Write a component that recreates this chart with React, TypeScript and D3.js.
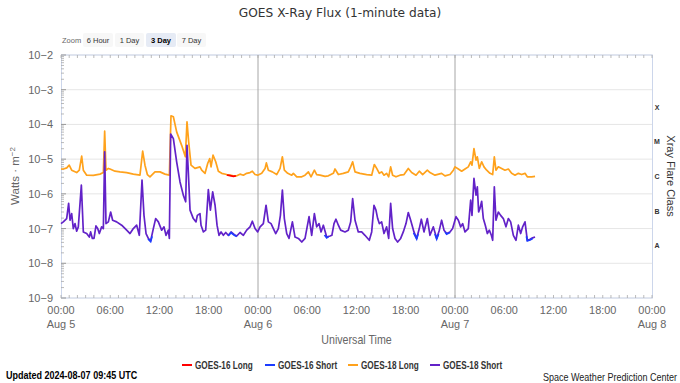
import React from 'react';
import * as d3 from 'd3';

// ---------- DATA (hours since 2024-08-05 00:00 UTC, flux W/m^2) ----------
const startDay = Date.UTC(2024, 7, 5);
const endDay = Date.UTC(2024, 7, 8);
const dayLines = [Date.UTC(2024, 7, 6), Date.UTC(2024, 7, 7)];

const goes18Long: [number, number][] = [
  [0, 5.2e-6], [0.3, 5.2e-6], [0.7, 5.6e-6], [1.0, 6.7e-6], [1.3, 4.8e-6], [1.91, 4.1e-6], [2.23, 4.8e-6],
  [2.52, 1.22e-5], [2.72, 4.8e-6], [3.13, 3.45e-6], [3.94, 3.4e-6], [4.75, 3.7e-6], [5.16, 4.1e-6],
  [5.32, 6.4e-5], [5.48, 4.8e-6], [5.77, 5.4e-6], [5.97, 5.2e-6], [6.58, 4.5e-6], [7.19, 4.3e-6],
  [8.0, 4.1e-6], [8.81, 3.7e-6], [9.62, 3.45e-6], [9.95, 1.7e-5], [10.23, 6.7e-6], [10.52, 3.6e-6],
  [10.84, 3.1e-6], [11.45, 4.3e-6], [12.06, 4.3e-6], [12.67, 3.7e-6], [13.2, 3.45e-6],
  [13.4, 1.78e-4], [13.69, 1.66e-4], [14.09, 6.1e-5], [14.7, 2.5e-5], [15.15, 1.17e-5],
  [15.35, 1.19e-4], [15.55, 3.2e-5], [15.84, 6.7e-6], [16.32, 5.4e-6], [16.93, 6.0e-6],
  [17.14, 4.8e-6], [17.55, 3.9e-6], [17.87, 7.5e-6], [18.12, 1.04e-5], [18.28, 6.0e-6],
  [18.52, 1.3e-5], [18.85, 8.4e-6], [19.17, 4.5e-6], [19.58, 3.9e-6], [20.19, 3.6e-6],
  [20.59, 3.45e-6], [21.0, 3.3e-6], [21.41, 3.3e-6], [21.81, 3.7e-6], [22.22, 3.45e-6],
  [22.62, 3.9e-6], [23.03, 4.1e-6], [23.31, 4.5e-6], [23.64, 3.6e-6], [23.96, 3.45e-6],
  [24.45, 3.9e-6], [24.86, 5.4e-6], [25.02, 7.8e-6], [25.26, 4.8e-6], [25.75, 4.3e-6],
  [26.28, 3.6e-6], [26.69, 5.4e-6], [26.97, 1.17e-5], [27.21, 4.8e-6], [27.62, 3.9e-6],
  [28.11, 3.45e-6], [28.31, 3.9e-6], [28.72, 3.1e-6], [29.33, 3.1e-6], [29.73, 3.45e-6],
  [30.14, 4.3e-6], [30.46, 3.1e-6], [30.87, 4.8e-6], [31.15, 3.6e-6], [31.56, 3.45e-6],
  [32.17, 3.2e-6], [32.57, 3.3e-6], [33.18, 3.9e-6], [33.38, 5.2e-6], [33.79, 3.6e-6],
  [34.39, 3.9e-6], [35.0, 4.3e-6], [35.29, 6.0e-6], [35.53, 8.4e-6], [35.82, 4.3e-6],
  [36.42, 3.9e-6], [37.24, 3.6e-6], [37.85, 3.45e-6], [38.17, 7.0e-6], [38.46, 5.4e-6],
  [38.78, 3.9e-6], [39.06, 4.3e-6], [39.35, 3.45e-6], [39.67, 3.9e-6], [39.92, 3.1e-6],
  [40.16, 6.0e-6], [40.4, 3.45e-6], [40.81, 3.1e-6], [41.3, 3.45e-6], [41.79, 3.6e-6],
  [42.31, 5.4e-6], [42.72, 4.1e-6], [43.25, 3.45e-6], [43.65, 4.5e-6], [44.06, 3.6e-6],
  [44.63, 4.8e-6], [44.95, 4.1e-6], [45.56, 3.45e-6], [46.37, 3.9e-6], [46.78, 3.3e-6],
  [47.39, 3.6e-6], [47.8, 4.8e-6], [48.0, 6.0e-6], [48.41, 5.2e-6], [48.81, 4.5e-6],
  [49.22, 5.2e-6], [49.62, 6.0e-6], [49.91, 8.4e-6], [50.07, 6.7e-6], [50.31, 2.0e-5],
  [50.56, 9.4e-6], [50.72, 1.17e-5], [50.96, 5.4e-6], [51.25, 8.4e-6], [51.53, 6.0e-6],
  [51.86, 4.8e-6], [52.26, 3.9e-6], [52.59, 3.6e-6], [52.79, 1.17e-5], [52.99, 4.8e-6],
  [53.28, 6.0e-6], [53.68, 5.4e-6], [54.09, 4.8e-6], [54.5, 5.2e-6], [54.9, 3.9e-6],
  [55.31, 3.45e-6], [55.72, 3.9e-6], [56.12, 3.6e-6], [56.53, 3.9e-6], [56.81, 3.1e-6],
  [57.34, 3.1e-6], [57.75, 3.2e-6],
];

const goes18Short: [number, number][] = [
  [0, 1.39e-7], [0.28, 1.56e-7], [0.69, 1.94e-7], [0.93, 5.3e-7], [1.1, 1.74e-7], [1.3, 2.7e-7],
  [1.5, 1.0e-7], [1.71, 1.39e-7], [1.91, 8.4e-8], [2.11, 1.12e-7], [2.48, 1.78e-6], [2.72, 8.0e-8],
  [3.13, 7.2e-8], [3.45, 5.7e-8], [3.61, 8.0e-8], [3.82, 5.2e-8], [4.02, 5.2e-8], [4.26, 1.19e-7],
  [4.47, 1.0e-7], [4.67, 7.2e-8], [4.95, 1.12e-7], [5.16, 1.0e-7], [5.32, 1.63e-5], [5.48, 1.39e-7],
  [5.77, 1.56e-7], [6.05, 3.0e-7], [6.29, 1.74e-7], [6.78, 1.56e-7], [7.39, 1.25e-7], [8.0, 9.0e-8],
  [8.41, 7.2e-8], [8.81, 1.0e-7], [9.22, 1.25e-7], [9.54, 6.4e-8], [9.87, 2.5e-6], [10.11, 2.4e-7],
  [10.36, 7.2e-8], [10.64, 5.2e-8], [10.92, 4.4e-8], [11.25, 1.0e-7], [11.53, 1.94e-7],
  [11.86, 1.56e-7], [12.26, 9.0e-8], [12.55, 1.12e-7], [12.79, 6.4e-8], [13.08, 9.0e-8],
  [13.2, 5.2e-8], [13.36, 5.3e-5], [13.69, 3.9e-5], [14.09, 8.4e-6], [14.5, 2.2e-6], [14.9, 9.2e-7],
  [15.19, 5.9e-7], [15.35, 2.5e-5], [15.51, 4.3e-6], [15.72, 3.4e-7], [16.12, 1.94e-7],
  [16.45, 1.56e-7], [16.61, 2.4e-7], [16.93, 2.7e-7], [17.06, 1.25e-7], [17.35, 8.0e-8],
  [17.63, 9.0e-8], [17.95, 1.33e-6], [18.2, 3.4e-7], [18.48, 1.14e-6], [18.77, 4.7e-7],
  [19.01, 1.25e-7], [19.25, 6.4e-8], [19.5, 8.0e-8], [19.78, 6.4e-8], [20.07, 7.7e-8],
  [20.39, 6.4e-8], [20.72, 8.0e-8], [21.12, 6.7e-8], [21.41, 6.1e-8], [21.81, 7.7e-8],
  [22.22, 6.4e-8], [22.62, 9.0e-8], [23.03, 1.12e-7], [23.31, 1.63e-7], [23.64, 1.0e-7],
  [23.96, 8.0e-8], [24.25, 1.12e-7], [24.65, 1.39e-7], [24.98, 4.7e-7], [25.26, 1.56e-7],
  [25.59, 1.39e-7], [25.87, 1.0e-7], [26.16, 7.2e-8], [26.48, 1.0e-7], [26.73, 2.4e-7],
  [26.97, 1.28e-6], [27.21, 1.94e-7], [27.5, 7.2e-8], [27.78, 5.2e-8], [28.19, 1.56e-7],
  [28.51, 5.7e-8], [28.92, 5.2e-8], [29.33, 4.1e-8], [29.73, 5.2e-8], [30.22, 2.2e-7],
  [30.54, 6.4e-8], [30.87, 2.7e-7], [31.15, 1.12e-7], [31.44, 1.39e-7], [31.68, 8.0e-8],
  [31.96, 1.25e-7], [32.37, 5.7e-8], [32.78, 6.1e-8], [33.0, 6.4e-8], [33.26, 1.39e-7],
  [33.5, 1.86e-7], [33.79, 1.25e-7], [34.07, 9.0e-8], [34.6, 8.0e-8], [35.0, 9.0e-8],
  [35.29, 1.56e-7], [35.53, 7.3e-7], [35.82, 1.74e-7], [36.22, 8.0e-8], [36.63, 8.0e-8],
  [37.03, 6.4e-8], [37.56, 4.6e-8], [37.85, 8.0e-8], [38.13, 4.7e-7], [38.37, 3.4e-7],
  [38.58, 1.94e-7], [38.78, 1.39e-7], [39.06, 1.56e-7], [39.35, 7.2e-8], [39.67, 1.12e-7],
  [39.92, 5.2e-8], [40.16, 5.3e-7], [40.4, 1.0e-7], [40.69, 5.2e-8], [41.01, 4.1e-8],
  [41.38, 5.2e-8], [41.7, 8.0e-8], [42.03, 1.39e-7], [42.31, 2.9e-7], [42.6, 1.74e-7],
  [43.0, 8.0e-8], [43.33, 5.2e-8], [43.65, 1.0e-7], [43.9, 1.86e-7], [44.22, 8.0e-8],
  [44.63, 1.94e-7], [44.95, 6.4e-8], [45.36, 1.12e-7], [45.77, 5.2e-8], [46.09, 9.0e-8],
  [46.37, 1.74e-7], [46.66, 9.0e-8], [46.98, 7.2e-8], [47.39, 8.0e-8], [47.71, 1.0e-7],
  [48.12, 2.2e-7], [48.41, 1.74e-7], [48.69, 1.12e-7], [48.93, 1.39e-7], [49.22, 8.0e-8],
  [49.62, 1.0e-7], [49.91, 6.6e-7], [50.07, 2.4e-7], [50.31, 2.8e-6], [50.56, 9.2e-7],
  [50.72, 1.59e-6], [50.88, 3.0e-7], [51.04, 3.8e-7], [51.25, 6.1e-7], [51.45, 1.94e-7],
  [51.69, 1.25e-7], [51.94, 7.2e-8], [52.18, 9.0e-8], [52.43, 6.4e-8], [52.59, 4.6e-8],
  [52.79, 1.59e-6], [52.99, 1.74e-7], [53.28, 3.0e-7], [53.56, 2.4e-7], [53.89, 1.94e-7],
  [54.21, 1.12e-7], [54.5, 1.94e-7], [54.78, 1.56e-7], [55.11, 6.4e-8], [55.43, 4.6e-8],
  [55.72, 1.25e-7], [56.0, 7.2e-8], [56.24, 1.12e-7], [56.53, 1.56e-7], [56.81, 4.6e-8],
  [57.14, 4.9e-8], [57.46, 5.4e-8], [57.75, 5.7e-8],
];

const goes16Long: [number, number][][] = [
  [[20.2, 3.5e-6], [20.59, 3.35e-6], [21.0, 3.2e-6], [21.3, 3.3e-6]],
];

const goes16Short: [number, number][][] = [
  [[10.6, 5.0e-8], [10.92, 4.2e-8], [11.1, 6.0e-8]],
  [[20.39, 6.2e-8], [20.72, 7.6e-8], [21.12, 6.4e-8], [21.41, 5.9e-8]],
  [[32.1, 6.5e-8], [32.37, 5.4e-8], [32.6, 5.9e-8]],
  [[42.95, 7.5e-8], [43.33, 5.0e-8], [43.5, 7.0e-8]],
  [[45.55, 7.0e-8], [45.77, 5.0e-8], [46.0, 7.0e-8]],
  [[46.8, 8.0e-8], [46.98, 6.9e-8], [47.39, 7.7e-8]],
  [[56.7, 6.0e-8], [56.81, 4.4e-8], [57.14, 4.7e-8], [57.46, 5.2e-8]],
];

const seriesNames = ['GOES-16 Long', 'GOES-16 Short', 'GOES-18 Long', 'GOES-18 Short'];
const seriesColors = ['#ff0000', '#1c3cff', '#ffa21c', '#6222c8'];
const yTickExponents = [-2, -3, -4, -5, -6, -7, -8, -9];
const flareClasses = ['X', 'M', 'C', 'B', 'A'];
const flareClassFloors = [1e-4, 1e-5, 1e-6, 1e-7, 1e-8];
const zoomButtons = ['6 Hour', '1 Day', '3 Day', '7 Day'];
const selectedZoom = '3 Day';
const titleText = 'GOES X-Ray Flux (1-minute data)';
const updatedText = 'Updated 2024-08-07 09:45 UTC';
const creditText = 'Space Weather Prediction Center';

// ---------- LAYOUT ----------
const W = 680, H = 383;
const L = 61, R = 652, T = 55, B = 298;
const SANS = "'Liberation Sans',Arial,sans-serif";
const DEJAVU = "'DejaVu Sans',Verdana,sans-serif";
const NARROW_SCALE = 0.82;

const x = d3.scaleUtc().domain([new Date(startDay), new Date(endDay)]).range([L, R]);
const y = d3.scaleLog().domain([1e-9, 1e-2]).range([B, T]);
const toDate = (h: number) => new Date(startDay + h * 3600000);
const line = d3
  .line<[number, number]>()
  .x((d) => x(toDate(d[0])))
  .y((d) => y(d[1]));

const supMinus = (n: number) => '−' + String(Math.abs(n));

function Narrow(props: { x: number; y: number; size: number; anchor?: string; bold?: boolean; fill?: string; scale?: number; children: React.ReactNode }) {
  const { x: tx, y: ty, size, anchor = 'start', bold = false, fill = '#333', scale = NARROW_SCALE, children } = props;
  return (
    <text transform={`translate(${tx},${ty}) scale(${scale},1)`} textAnchor={anchor as any}
      fontFamily={SANS} fontSize={size} fontWeight={bold ? 'bold' : 'normal'} fill={fill}>
      {children}
    </text>
  );
}

export default function App() {
  const majorX = d3.utcHour.every(6)!.range(new Date(startDay), new Date(endDay + 1));
  const minorX = d3.utcHour.range(new Date(startDay), new Date(endDay + 1));
  const minorY: number[] = [];
  for (let e = -9; e < -2; e++) for (let k = 2; k < 10; k++) minorY.push(k * Math.pow(10, e));
  const fmtTime = d3.utcFormat('%H:%M');
  const fmtDay = d3.utcFormat('%b %-d');

  const btnX = [83, 115, 146, 177];
  const btnW = [30, 29, 30, 29];
  const legendX = [182, 265, 348, 430];

  return (
    <div style={{ position: 'absolute', left: 0, top: 0 }}>
      <svg width={W} height={H} style={{ display: 'block', background: '#fff' }}>
        <rect x={0} y={0} width={W} height={H} fill="#fff" />
        <text x={340} y={17} textAnchor="middle" fontFamily={DEJAVU} fontSize={12.2} fill="#333">
          {titleText}
        </text>

        {/* zoom buttons */}
        <text x={62} y={43} fontFamily={SANS} fontSize={7.5} fill="#666">Zoom</text>
        {zoomButtons.map((b, i) => (
          <g key={b}>
            <rect x={btnX[i]} y={33} width={btnW[i]} height={14} rx={2}
              fill={b === selectedZoom ? '#e6ebf5' : '#f7f7f7'} />
            <text x={btnX[i] + btnW[i] / 2} y={43} textAnchor="middle" fontFamily={SANS} fontSize={7.5}
              fontWeight={b === selectedZoom ? 'bold' : 'normal'} fill={b === selectedZoom ? '#000' : '#333'}>
              {b}
            </text>
          </g>
        ))}

        {/* grid */}
        {yTickExponents.map((e) => (
          <line key={e} x1={L} x2={R} y1={y(Math.pow(10, e))} y2={y(Math.pow(10, e))} stroke="#e6e6e6" />
        ))}
        {/* plot border */}
        <rect x={L + 0.5} y={T} width={R - L} height={B - T} fill="none" stroke="#ccd6eb" />

        {/* y ticks */}
        {minorY.map((v, i) => (
          <line key={i} x1={L} x2={L + 3} y1={y(v)} y2={y(v)} stroke="#aaa" strokeWidth={0.8} />
        ))}
        {yTickExponents.map((e) => (
          <line key={'m' + e} x1={L} x2={L + 5} y1={y(Math.pow(10, e))} y2={y(Math.pow(10, e))} stroke="#999" />
        ))}
        {/* x ticks */}
        {minorX.map((d, i) => (
          <g key={i}>
            <line x1={x(d)} x2={x(d)} y1={B} y2={B - 3} stroke="#aaa" strokeWidth={0.8} />
            <line x1={x(d)} x2={x(d)} y1={T} y2={T + 3} stroke="#aaa" strokeWidth={0.8} />
          </g>
        ))}

        {/* day separators */}
        {dayLines.map((d) => (
          <line key={d} x1={x(new Date(d))} x2={x(new Date(d))} y1={T} y2={B} stroke="#a6a6a6" strokeWidth={1} />
        ))}

        {/* series */}
        <path d={line(goes18Long) || ''} fill="none" stroke={seriesColors[2]} strokeWidth={1.7} strokeLinejoin="round" />
        <path d={line(goes18Short) || ''} fill="none" stroke={seriesColors[3]} strokeWidth={1.7} strokeLinejoin="round" />
        {goes16Long.map((s, i) => (
          <path key={'l' + i} d={line(s) || ''} fill="none" stroke={seriesColors[0]} strokeWidth={1.7} />
        ))}
        {goes16Short.map((s, i) => (
          <path key={'s' + i} d={line(s) || ''} fill="none" stroke={seriesColors[1]} strokeWidth={1.7} />
        ))}

        {/* y labels */}
        {yTickExponents.map((e) => (
          <text key={e} x={53} y={y(Math.pow(10, e)) + 4} textAnchor="end" fontFamily={SANS} fontSize={11} fill="#666">
            {'10' + supMinus(e)}
          </text>
        ))}
        <text transform={`translate(19,176) rotate(-90)`} textAnchor="middle" fontFamily={SANS} fontSize={11.5} fill="#666">
          Watts · m<tspan dy={-4} fontSize={8}>−2</tspan>
        </text>

        {/* x labels */}
        {majorX.map((d, i) => (
          <g key={i}>
            <Narrow x={x(d)} y={314} size={11.5} scale={0.95} anchor="middle" fill="#666">{fmtTime(d)}</Narrow>
            {d.getUTCHours() === 0 && (
              <Narrow x={x(d)} y={328} size={11.5} scale={0.95} anchor="middle" fill="#666">{fmtDay(d)}</Narrow>
            )}
          </g>
        ))}
        <Narrow x={(L + R) / 2} y={344} size={13} anchor="middle" fill="#666">Universal Time</Narrow>

        {/* flare classes */}
        {flareClasses.map((c, i) => (
          <text key={c} x={657} y={y(flareClassFloors[i] * Math.sqrt(10)) + 2.5} textAnchor="middle"
            fontFamily={SANS} fontSize={7} fontWeight="bold" fill="#333">{c}</text>
        ))}
        <text transform={`translate(667,176) rotate(90)`} textAnchor="middle" fontFamily={SANS} fontSize={11} fill="#333">
          Xray Flare Class
        </text>

        {/* legend */}
        {seriesNames.map((n, i) => (
          <g key={n}>
            <line x1={legendX[i]} x2={legendX[i] + 10} y1={365} y2={365} stroke={seriesColors[i]} strokeWidth={2} />
            <Narrow x={legendX[i] + 13} y={368.5} size={10} bold fill="#333">{n}</Narrow>
          </g>
        ))}

        {/* footer */}
        <Narrow x={6} y={379} size={11} bold fill="#000">{updatedText}</Narrow>
        <Narrow x={677} y={381} size={11} anchor="end" fill="#222">{creditText}</Narrow>
      </svg>
    </div>
  );
}
